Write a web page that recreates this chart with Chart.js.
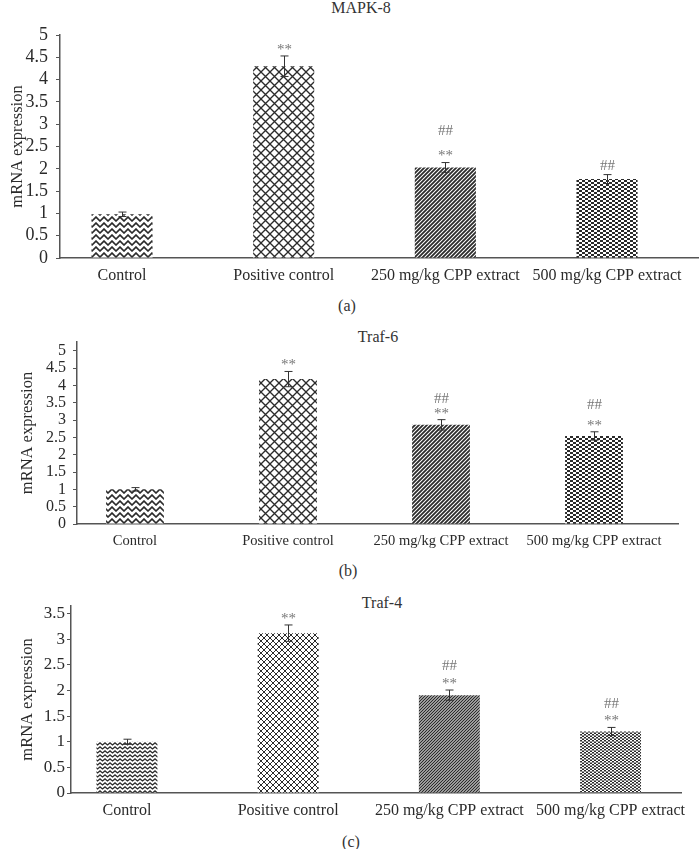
<!DOCTYPE html>
<html>
<head>
<meta charset="utf-8">
<script src="https://cdn.jsdelivr.net/npm/chart.js@4.4.0/dist/chart.umd.min.js"></script>
<style>
body { margin:0; width:699px; height:849px; background:#fff; overflow:hidden; position:relative;
       font-family:'Liberation Serif','Times New Roman',serif; color:#333; }
.panel { position:absolute; left:0; }
.lbl { position:absolute; transform:translate(-50%,-50%); white-space:nowrap; line-height:1; font-size:16px; }
</style>
</head>
<body>
<div class="lbl" style="left:361px;top:8px">MAPK-8</div>
<div class="panel" style="top:0"><canvas id="chartA" width="699" height="290"></canvas></div>
<div class="lbl" style="left:347px;top:306px">(a)</div>

<div class="lbl" style="left:378px;top:337px">Traf-6</div>
<div class="panel" style="top:320px"><canvas id="chartB" width="699" height="230"></canvas></div>
<div class="lbl" style="left:348px;top:571px">(b)</div>

<div class="lbl" style="left:382px;top:603px">Traf-4</div>
<div class="panel" style="top:590px"><canvas id="chartC" width="699" height="230"></canvas></div>
<div class="lbl" style="left:351px;top:842px">(c)</div>

<script>
// groups
const categories = ['Control', 'Positive control', '250 mg/kg CPP extract', '500 mg/kg CPP extract'];

// (a) MAPK-8
const mapkValues = [0.98, 4.30, 2.03, 1.77];
const mapkErrors = [0.05, 0.23, 0.11, 0.10];
const mapkStars  = ['', '**', '**', ''];
const mapkHashes = ['', '', '##', '##'];
const mapkTicks  = [0, 0.5, 1, 1.5, 2, 2.5, 3, 3.5, 4, 4.5, 5];

// (b) Traf-6
const traf6Values = [1.00, 4.18, 2.86, 2.54];
const traf6Errors = [0.05, 0.22, 0.15, 0.12];
const traf6Stars  = ['', '**', '**', '**'];
const traf6Hashes = ['', '', '##', '##'];
const traf6Ticks  = [0, 0.5, 1, 1.5, 2, 2.5, 3, 3.5, 4, 4.5, 5];

// (c) Traf-4
const traf4Values = [1.00, 3.12, 1.91, 1.20];
const traf4Errors = [0.05, 0.16, 0.10, 0.08];
const traf4Stars  = ['', '**', '**', '**'];
const traf4Hashes = ['', '', '##', '##'];
const traf4Ticks  = [0, 0.5, 1, 1.5, 2, 2.5, 3, 3.5];

const FONT = "'Liberation Serif','Times New Roman',serif";
const INK = '#2b2b2b';

function makeTile(kind, t)
{
  const c = document.createElement('canvas');
  const g = c.getContext('2d');
  c.width = t;
  c.height = (kind === 'zigzag') ? Math.round(t * 0.7) : (kind === 'dots' ? Math.round(t * 2 / 3) : t);
  const h = c.height;
  g.fillStyle = '#fff';
  g.fillRect(0, 0, t, h);
  g.strokeStyle = INK;
  g.fillStyle = INK;
  g.beginPath();
  if (kind === 'zigzag') {
    g.lineWidth = Math.max(1.2, t * 0.2);
    g.moveTo(-1, 0); g.lineTo(t / 2, h - 1); g.lineTo(t + 1, 0);
    g.moveTo(-1, h); g.lineTo(0, h + 1);
    g.stroke();
  } else if (kind === 'cross') {
    g.lineWidth = Math.max(1, t * 0.15);
    g.moveTo(-1, -1); g.lineTo(t + 1, t + 1);
    g.moveTo(t + 1, -1); g.lineTo(-1, t + 1);
    g.stroke();
  } else if (kind === 'diag') {
    g.lineWidth = t * 0.45;
    g.moveTo(-1, t + 1); g.lineTo(t + 1, -1);
    g.moveTo(-1, 1); g.lineTo(1, -1);
    g.moveTo(t - 1, t + 1); g.lineTo(t + 1, t - 1);
    g.stroke();
  } else if (kind === 'dots') {
    // staggered small dark blocks
    const bw = t / 2, bh = h / 2;
    g.fillRect(0, 0, bw, bh);
    g.fillRect(bw, bh, bw, bh);
  }
  return c;
}

function barPatterns(sizes)
{
  const ctx = document.createElement('canvas').getContext('2d');
  return ['zigzag', 'cross', 'diag', 'dots'].map((k, i) => ctx.createPattern(makeTile(k, sizes[i]), 'repeat'));
}

// error bars + significance marks
const errorBars = {
  id: 'errorBars',
  afterDatasetsDraw(chart, args, opts) {
    const ctx = chart.ctx;
    const x = chart.scales.x, y = chart.scales.y;
    const data = chart.data.datasets[0].data;
    ctx.save();
    ctx.strokeStyle = '#333';
    ctx.lineWidth = 1;
    opts.errors.forEach((e, i) => {
      const v = data[i].y;
      const px = Math.round(x.getPixelForValue(i)) + 0.5;
      const top = y.getPixelForValue(v + e), bot = y.getPixelForValue(v - e);
      ctx.beginPath();
      ctx.moveTo(px, top); ctx.lineTo(px, bot);
      ctx.moveTo(px - 4, top); ctx.lineTo(px + 4, top);
      ctx.moveTo(px - 4, bot); ctx.lineTo(px + 4, bot);
      ctx.stroke();

      const marks = [opts.stars[i], opts.hashes[i]].filter(Boolean);
      let ty = top - opts.first;
      ctx.fillStyle = '#777';
      ctx.textAlign = 'center';
      ctx.textBaseline = 'middle';
      ctx.font = opts.markSize + 'px ' + FONT;
      marks.forEach(m => {
        const dy = (m === '**') ? 3 : 0;
        ctx.fillText(m, px, ty + dy);
        ty -= (opts.gaps[i] || opts.gap);
      });
    });
    ctx.restore();
  }
};

function drawPanel(id, values, errors, stars, hashes, ticks, L)
{
  const canvas = document.getElementById(id);
  return new Chart(canvas, {
    type: 'bar',
    data: {
      datasets: [{
        data: values.map((v, i) => ({ x: i, y: v })),
        backgroundColor: barPatterns(L.tiles),
        borderWidth: 0,
        categoryPercentage: 1,
        barPercentage: 0.378
      }]
    },
    options: {
      responsive: false,
      animation: false,
      events: [],
      layout: { padding: { top: L.top, right: canvas.width - L.right, bottom: 0, left: 0 } },
      plugins: {
        legend: { display: false },
        tooltip: { enabled: false },
        errorBars: { errors, stars, hashes, first: 9, gap: L.gap, gaps: L.gaps || [], markSize: 15 }
      },
      scales: {
        x: {
          type: 'linear',
          offset: false,
          min: L.xmin,
          max: L.xmax,
          afterFit: s => { s.height = L.xh; },
          afterBuildTicks: s => { s.ticks = categories.map((c, i) => ({ value: i })); },
          grid: { display: false, drawTicks: false, offset: false },
          border: { display: true, color: '#555', width: 1.5 },
          ticks: {
            autoSkip: false, maxRotation: 0, padding: 8,
            color: '#2a2a2a',
            font: { family: FONT, size: L.xfont },
            callback: v => categories[v]
          }
        },
        y: {
          min: 0,
          max: L.ymax,
          afterFit: s => { s.width = L.left; },
          afterBuildTicks: s => { s.ticks = ticks.map(v => ({ value: v })); },
          grid: { display: true, drawOnChartArea: false, color: '#555', tickLength: 4 },
          border: { display: true, color: '#555', width: 1.5 },
          ticks: {
            autoSkip: false,
            padding: L.ypad,
            color: '#2a2a2a',
            font: { family: FONT, size: L.yfont },
            callback: v => String(v)
          },
          title: {
            display: true,
            text: 'mRNA expression',
            color: '#2a2a2a',
            font: { family: FONT, size: 16.5 },
            padding: { top: L.tpad, bottom: 0 }
          }
        }
      }
    },
    plugins: [errorBars]
  });
}

drawPanel('chartA', mapkValues, mapkErrors, mapkStars, mapkHashes, mapkTicks, {
  top: 35, right: 699, left: 60, xh: 32, ymax: 5,
  xmin: -0.3835, xmax: 3.569, xfont: 16, yfont: 18, ypad: 8, tpad: 8,
  tiles: [8, 9, 4, 6], gap: 22, gaps: [0, 0, 22, 0]
});

drawPanel('chartB', traf6Values, traf6Errors, traf6Stars, traf6Hashes, traf6Ticks, {
  top: 22, right: 678, left: 77, xh: 26, ymax: 5.25,
  xmin: -0.379, xmax: 3.549, xfont: 14.5, yfont: 16, ypad: 7, tpad: 18,
  tiles: [8, 9, 4, 6], gap: 14, gaps: [0, 0, 12, 18]
});

drawPanel('chartC', traf4Values, traf4Errors, traf4Stars, traf4Hashes, traf4Ticks, {
  top: 16, right: 681, left: 71, xh: 27, ymax: 3.65,
  xmin: -0.347, xmax: 3.437, xfont: 16, yfont: 17, ypad: 2, tpad: 18,
  tiles: [5, 6, 3, 4], gap: 14.5
});
</script>
</body>
</html>
